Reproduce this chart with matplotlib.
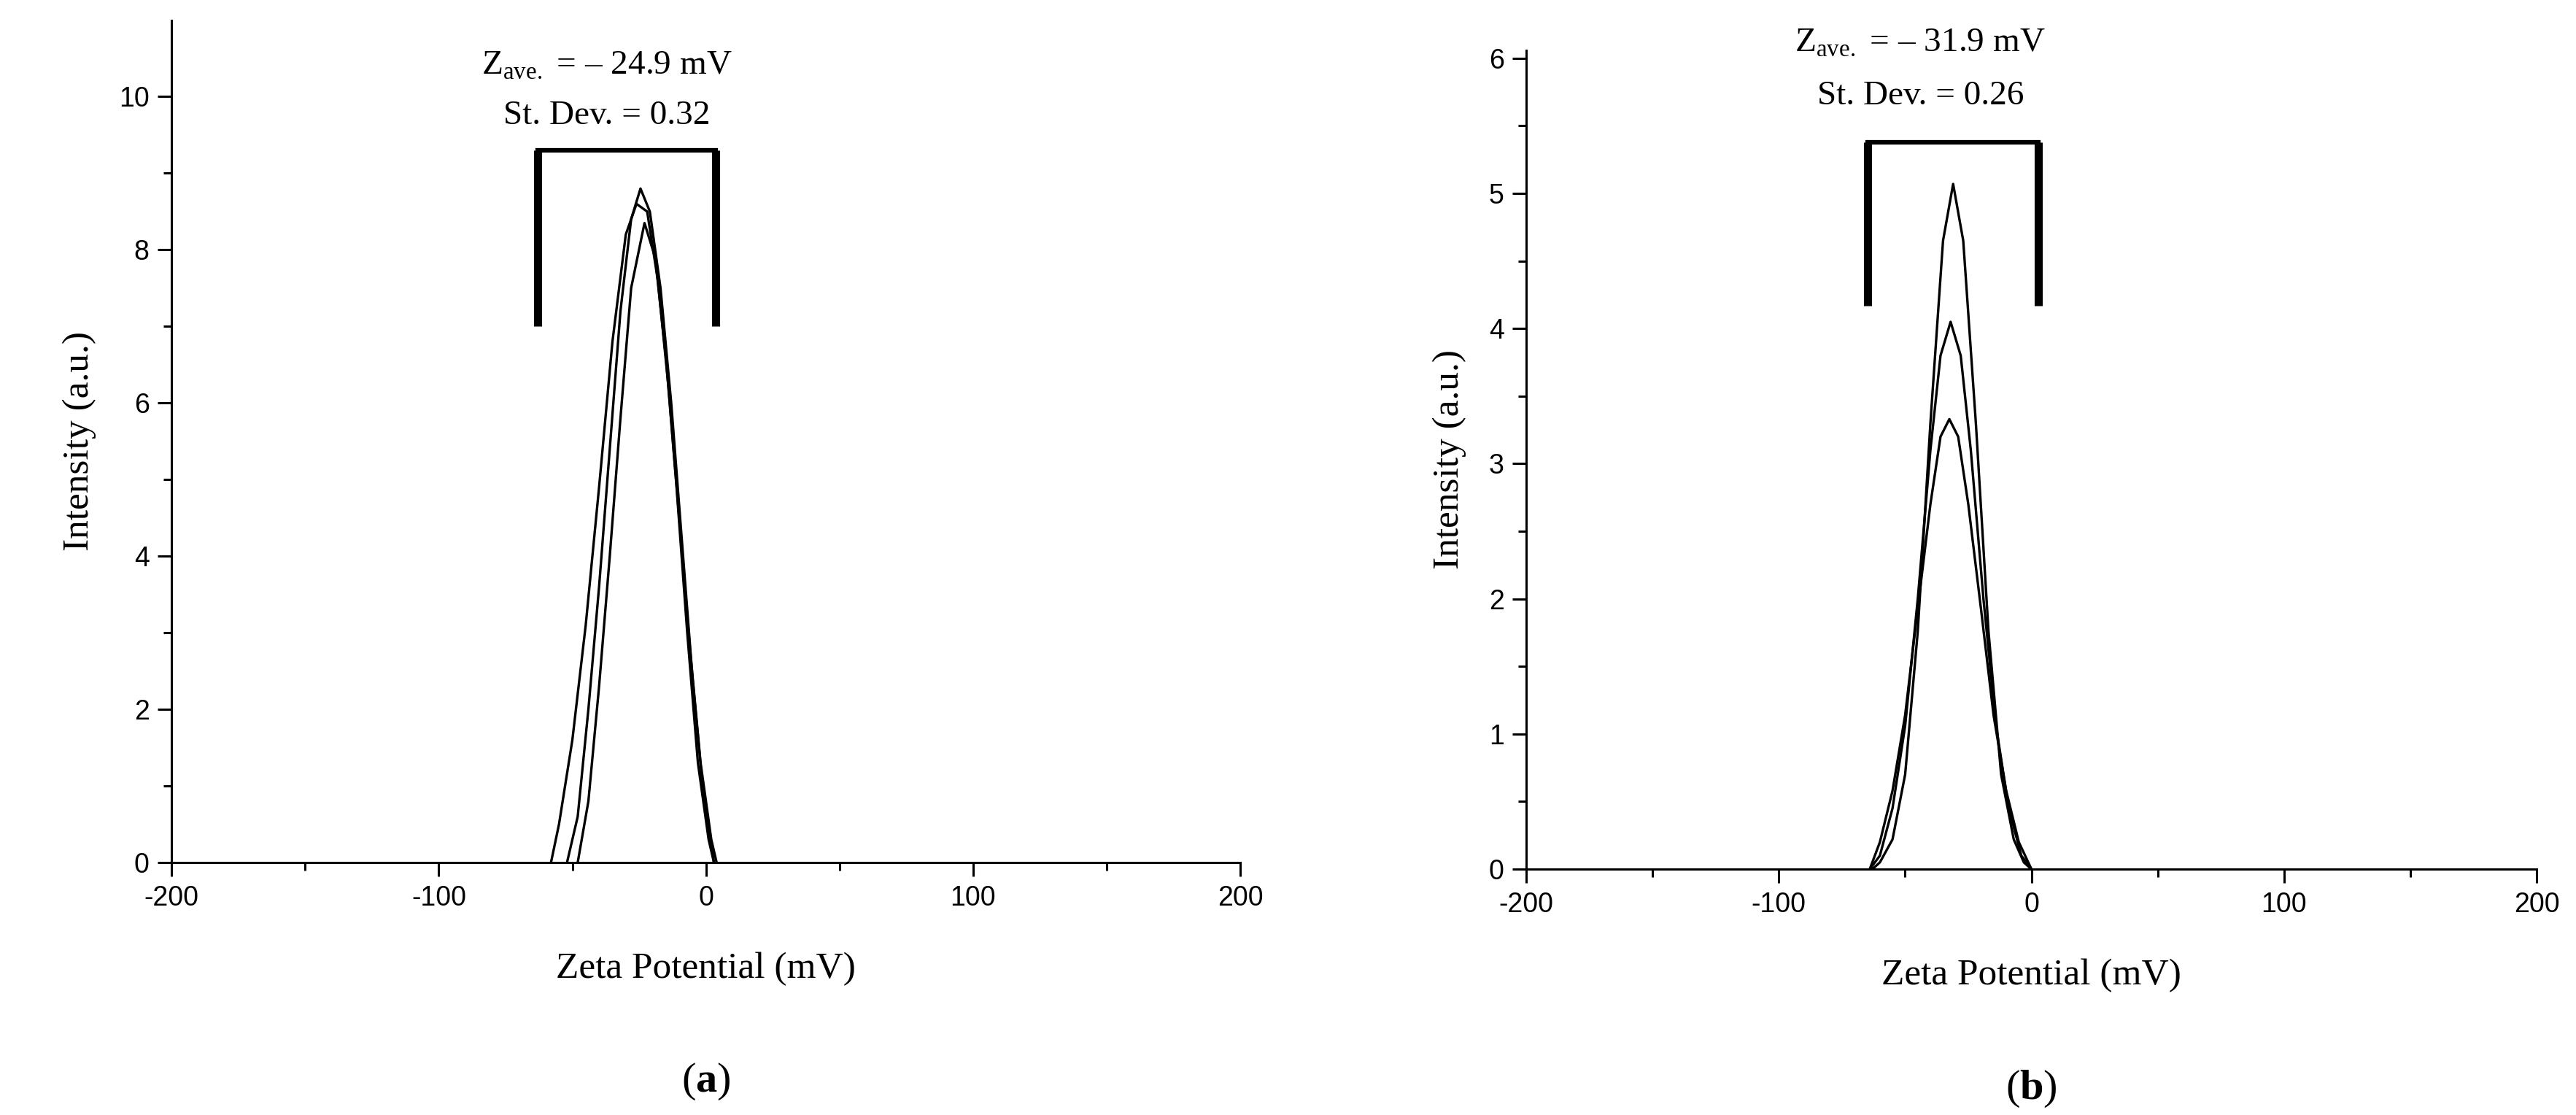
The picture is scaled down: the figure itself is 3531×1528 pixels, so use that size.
import numpy as np
import matplotlib.pyplot as plt

plt.rcParams['mathtext.fontset'] = 'custom'
plt.rcParams['mathtext.rm'] = 'Liberation Serif'
plt.rcParams['mathtext.bf'] = 'Liberation Serif:bold'
plt.rcParams['axes.unicode_minus'] = False

# panel (a) curves
a1_x = [-58, -55, -50, -45, -40, -35, -30, -26, -22, -18, -14, -10, -6, -2, 2, 4]
a1_y = [0, 0.5, 1.6, 3.1, 4.9, 6.8, 8.2, 8.6, 8.5, 7.6, 6.2, 4.5, 2.8, 1.3, 0.3, 0]
a2_x = [-52, -48, -44, -40, -36, -32, -28, -24.5, -21, -17, -13, -9, -5, -1, 3]
a2_y = [0, 0.6, 2.0, 3.6, 5.4, 7.2, 8.4, 8.8, 8.5, 7.5, 6.0, 4.2, 2.4, 0.9, 0]
a3_x = [-48, -44, -40, -36, -32, -28, -23, -19, -15, -11, -7, -3, 1, 3]
a3_y = [0, 0.8, 2.3, 4.0, 5.8, 7.5, 8.35, 7.9, 6.6, 4.9, 3.0, 1.3, 0.3, 0]

# panel (b) curves
b1_x = [-63, -60, -55, -50, -45, -40, -35, -31, -27, -22, -17, -12, -7, -3, 0]
b1_y = [0, 0.05, 0.22, 0.70, 1.76, 3.3, 4.65, 5.07, 4.65, 3.3, 1.76, 0.7, 0.22, 0.05, 0]
b2_x = [-64, -60, -55, -50, -45, -40, -36, -32, -28, -24, -19, -14, -9, -4, 0]
b2_y = [0, 0.1, 0.45, 1.06, 2.0, 3.1, 3.8, 4.05, 3.8, 3.1, 2.0, 1.06, 0.45, 0.1, 0]
b3_x = [-64, -60, -55, -50, -45, -40, -36, -32.5, -29, -25, -20, -15, -10, -5, 0]
b3_y = [0, 0.2, 0.58, 1.14, 1.93, 2.7, 3.2, 3.33, 3.2, 2.7, 1.93, 1.14, 0.58, 0.2, 0]

# brackets: left x, right x, bottom y, top y
bracket_a = [-63, 3.7, 7.0, 9.3]
bracket_b = [-65, 2.6, 4.17, 5.38]

text_a = [r"Z$_{\mathrm{ave.}}$ = – 24.9 mV", "St. Dev. = 0.32"]
text_b = [r"Z$_{\mathrm{ave.}}$ = – 31.9 mV", "St. Dev. = 0.26"]

fig = plt.figure(figsize=(35.31, 15.28), dpi=100)
ax1 = fig.add_axes([0.0666, 0.2264, 0.4149, 0.7556])
ax2 = fig.add_axes([0.5925, 0.2205, 0.3922, 0.7345])

serif = 'Liberation Serif'
sans = 'Liberation Sans'

def style(ax, ymax, ystep, label, ylab_y):
    for s in ['top', 'right']:
        ax.spines[s].set_visible(False)
    for s in ['left', 'bottom']:
        ax.spines[s].set_linewidth(2.2)
    ax.set_xlim(-200, 200)
    ax.set_ylim(0, ymax)
    ax.set_xticks(np.arange(-200, 201, 100))
    ax.set_xticks(np.arange(-150, 200, 100), minor=True)
    ax.set_yticks(np.arange(0, ymax, ystep))
    ax.set_yticks(np.arange(ystep / 2, ymax, ystep), minor=True)
    ax.tick_params(which='major', direction='out', length=14, width=2.2, labelsize=27, pad=8)
    ax.tick_params(which='minor', direction='out', length=8, width=2.2)
    for t in ax.get_xticklabels() + ax.get_yticklabels():
        t.set_fontfamily(sans)
    ax.set_xlabel("Zeta Potential (mV)", fontfamily=serif, fontsize=37, labelpad=40)
    ax.set_ylabel("Intensity (a.u.)", fontfamily=serif, fontsize=37, labelpad=22)
    ax.text(0.5, ylab_y, "(" + r"$\mathbf{" + label + "}$" + ")", transform=ax.transAxes,
            ha='center', va='center', fontfamily=serif, fontsize=42)

def bracket(ax, b):
    ax.plot([b[0], b[0]], [b[2], b[3]], color='black', lw=8, solid_capstyle='butt')
    ax.plot([b[1], b[1]], [b[2], b[3]], color='black', lw=8, solid_capstyle='butt')
    ax.plot([b[0], b[1]], [b[3], b[3]], color='black', lw=4.5, solid_capstyle='projecting')

for xs, ys in [(a1_x, a1_y), (a2_x, a2_y), (a3_x, a3_y)]:
    ax1.plot(xs, ys, color='black', lw=2.4)
for xs, ys in [(b1_x, b1_y), (b2_x, b2_y), (b3_x, b3_y)]:
    ax2.plot(xs, ys, color='black', lw=2.4)

bracket(ax1, bracket_a)
bracket(ax2, bracket_b)

ax1.text(-37, 10.4, text_a[0], ha='center', va='center', fontfamily=serif, fontsize=34, clip_on=False)
ax1.text(-37, 9.75, text_a[1], ha='center', va='center', fontfamily=serif, fontsize=34, clip_on=False)
ax2.text(-44, 6.11, text_b[0], ha='center', va='center', fontfamily=serif, fontsize=34, clip_on=False)
ax2.text(-44, 5.72, text_b[1], ha='center', va='center', fontfamily=serif, fontsize=34, clip_on=False)

style(ax1, 11, 2, 'a', -0.26)
style(ax2, 6.06, 1, 'b', -0.268)

plt.savefig("out.png", dpi=100)
plt.close()
